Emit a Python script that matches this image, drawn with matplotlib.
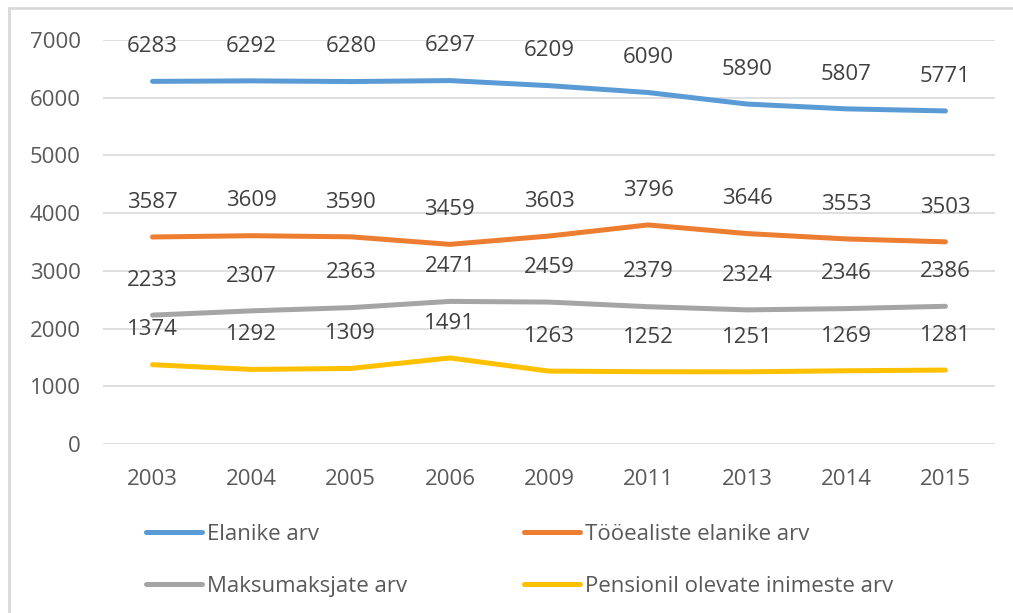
import matplotlib.pyplot as plt
from matplotlib.lines import Line2D

years = ["2003", "2004", "2005", "2006", "2009", "2011", "2013", "2014", "2015"]
elanikud = [6283, 6292, 6280, 6297, 6209, 6090, 5890, 5807, 5771]
tooealised = [3587, 3609, 3590, 3459, 3603, 3796, 3646, 3553, 3503]
maksumaksjad = [2233, 2307, 2363, 2471, 2459, 2379, 2324, 2346, 2386]
pensionarid = [1374, 1292, 1309, 1491, 1263, 1252, 1251, 1269, 1281]

series = [
    ("Elanike arv", elanikud, "#5B9BD5"),
    ("Tööealiste elanike arv", tooealised, "#ED7D31"),
    ("Maksumaksjate arv", maksumaksjad, "#A5A5A5"),
    ("Pensionil olevate inimeste arv", pensionarid, "#FFC000"),
]

plt.rcParams['font.family'] = ['Open Sans', 'DejaVu Sans']
FS = 16

fig = plt.figure(figsize=(10.13, 6.13), dpi=100)
ax = fig.add_axes([103/1013, 1-444/613, (995-103)/1013, (444-40)/613])

x = list(range(len(years)))
handles = []
for name, vals, col in series:
    ln, = ax.plot(x, vals, color=col, lw=3.6, solid_capstyle='round',
                  solid_joinstyle='round', label=name, zorder=3)
    handles.append(ln)
    for xi, v in zip(x, vals):
        ax.annotate(str(v), (xi, v), xytext=(0, 25), textcoords='offset points',
                    ha='center', va='center', fontsize=FS, color='#404040')

ax.set_xlim(-0.5, len(years) - 0.5)
ax.set_ylim(0, 7000)
ax.set_yticks(range(0, 7001, 1000))
ax.set_xticks(x)
ax.set_xticklabels(years)
ax.grid(axis='y', color='#D9D9D9', lw=1.2)
ax.set_axisbelow(True)
for s in ax.spines.values():
    s.set_visible(False)
ax.tick_params(length=0, labelsize=FS, colors='#595959')
ax.tick_params(axis='y', pad=16)
ax.tick_params(axis='x', pad=18)

# legend is filled column by column, so order handles to read row-wise
order = [0, 2, 1, 3]
fig.legend(handles=[handles[i] for i in order], ncol=2, loc='upper left',
           bbox_to_anchor=(146/1013, 1-524/613), frameon=False,
           fontsize=FS, labelcolor='#595959', handlelength=2.5,
           handletextpad=0.25, columnspacing=5.27, labelspacing=1.4,
           borderpad=0, borderaxespad=0)

# border of the chart area (top and left visible)
fig.add_artist(Line2D([9/1013, 9/1013], [0, 1-8/613], color='#D9D9D9', lw=2))
fig.add_artist(Line2D([9/1013, 1], [1-8/613, 1-8/613], color='#D9D9D9', lw=2))

fig.savefig("out.png", dpi=100, facecolor='white')
